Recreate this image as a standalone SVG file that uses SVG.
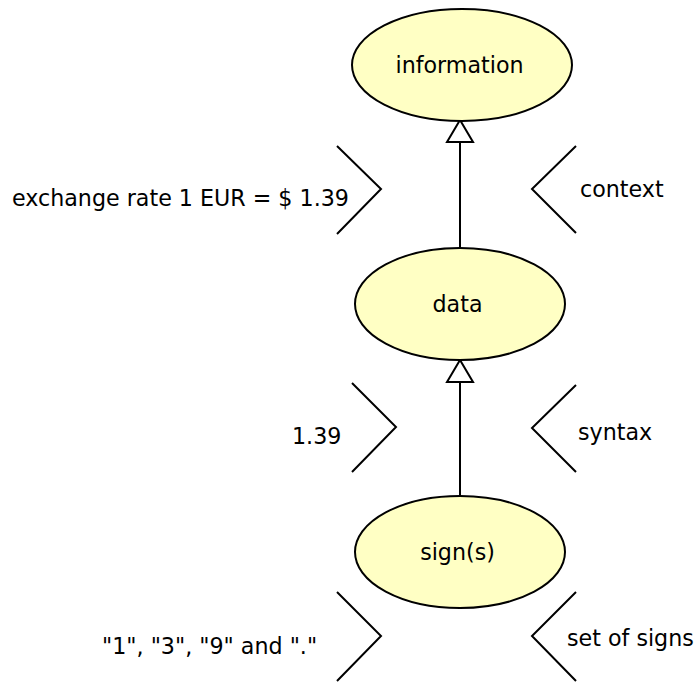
<svg xmlns="http://www.w3.org/2000/svg" width="696" height="682" viewBox="0 0 696 682">
  <defs>
    <style>
      .node ellipse { fill: #ffffc4; stroke: #000; stroke-width: 2; }
      text { font-family: "DejaVu Sans", "Liberation Sans", sans-serif; font-size: 22.2px; fill: #000; }
      .mid { text-anchor: middle; }
      .conn line { stroke: #000; stroke-width: 2; }
      .conn polygon { fill: #fff; stroke: #000; stroke-width: 2; }
      .brace polyline { fill: none; stroke: #000; stroke-width: 2; }
    </style>
  </defs>
  <rect width="696" height="682" fill="#fff"/>

  <!-- generalisation connectors -->
  <g id="connectors" class="conn">
    <line x1="460" y1="142" x2="460" y2="248"/>
    <polygon points="460,120 447,142 473,142"/>
    <line x1="460" y1="382" x2="460" y2="497"/>
    <polygon points="460,360 447,382 473,382"/>
  </g>

  <g id="information" class="node">
    <ellipse cx="462" cy="65" rx="110" ry="56"/>
    <text class="mid" x="459.5" y="73">information</text>
  </g>
  <g id="data" class="node">
    <ellipse cx="460" cy="304" rx="105" ry="56"/>
    <text class="mid" x="457.5" y="312">data</text>
  </g>
  <g id="signs" class="node">
    <ellipse cx="460" cy="552" rx="105" ry="56"/>
    <text class="mid" x="457.5" y="560">sign(s)</text>
  </g>

  <!-- side annotations -->
  <g id="brackets" class="brace">
    <polyline points="337,146 381,189 337,234"/>
    <polyline points="576,146 532,189 576,233"/>
    <polyline points="352,383 396,427 352,472"/>
    <polyline points="576,385 532,428 576,472"/>
    <polyline points="337,592 381,636 337,681"/>
    <polyline points="576,592 532,636 576,681"/>
  </g>
  <g id="labels">
    <text x="12" y="206">exchange rate 1 EUR = $ 1.39</text>
    <text x="580" y="197">context</text>
    <text x="292" y="444">1.39</text>
    <text x="578" y="440">syntax</text>
    <text x="102" y="654">"1", "3", "9" and "."</text>
    <text x="567" y="646">set of signs</text>
  </g>
</svg>
